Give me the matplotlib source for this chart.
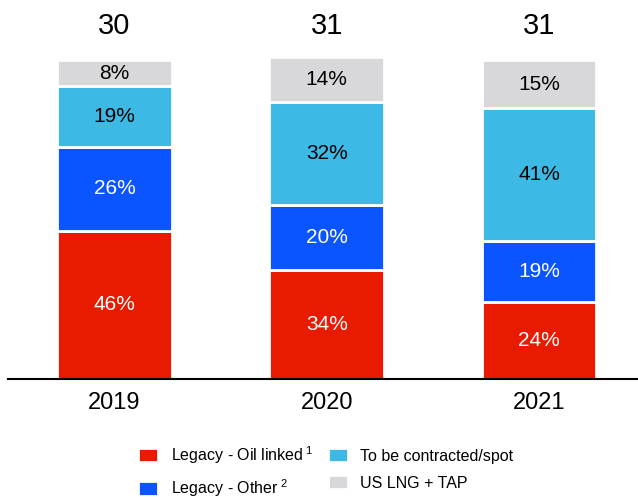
import numpy as np
import matplotlib.pyplot as plt

plt.rcParams['font.family'] = ['Liberation Sans', 'DejaVu Sans']
plt.rcParams['mathtext.fontset'] = 'custom'
plt.rcParams['mathtext.rm'] = 'Liberation Sans'
plt.rcParams['mathtext.default'] = 'rm'

# 데이터
years = ['2019', '2020', '2021']
totals = [30, 31, 31]
oil_linked = [46, 34, 24]
other = [26, 20, 19]
spot = [19, 32, 41]
us_lng = [8, 14, 15]

series = [oil_linked, other, spot, us_lng]
names = ['Legacy - Oil linked$^{\\;1}$', 'Legacy - Other$^{\\;2}$',
         'To be contracted/spot', 'US LNG + TAP']
colors = ['#E81A00', '#0A55FF', '#3DB9E6', '#D8D8DA']
text_colors = ['white', 'white', 'black', 'black']

fig = plt.figure(figsize=(6.38, 4.97), dpi=100)
ax = fig.add_axes([0.0125, 0.2374, 0.9875, 0.648])

x = np.arange(len(years))
bottom = np.zeros(len(years))
handles = []
for vals, name, c, tc in zip(series, names, colors, text_colors):
    vals = np.array(vals, dtype=float)
    b = ax.bar(x, vals, width=0.54, bottom=bottom, color=c,
               edgecolor='white', linewidth=2, label=name)
    handles.append(b)
    for xi, v, bt in zip(x, vals, bottom):
        ax.text(xi, bt + v / 2, f'{int(v)}%', ha='center', va='center',
                fontsize=15, color=tc)
    bottom += vals

# 합계 (상단)
for xi, t in zip(x, totals):
    ax.text(xi, 109.5, str(t), ha='center', va='center', fontsize=21,
            clip_on=False)

ax.set_xlim(-0.502, 2.466)
ax.set_ylim(0, 100)
ax.set_xticks(x)
ax.set_xticklabels(years, fontsize=17)
ax.tick_params(axis='x', length=0, pad=9)
ax.set_yticks([])
for s in ['top', 'right', 'left']:
    ax.spines[s].set_visible(False)
ax.spines['bottom'].set_linewidth(1.5)

fig.legend(handles=handles, ncol=2, loc='upper left',
           bbox_to_anchor=(138 / 638, 1 - 444 / 497), frameon=False,
           fontsize=11.5, borderpad=0, borderaxespad=0,
           handlelength=1.25, handleheight=1.0, columnspacing=0.9,
           labelspacing=0.72, handletextpad=0.8)

plt.savefig('out.png', dpi=100)
